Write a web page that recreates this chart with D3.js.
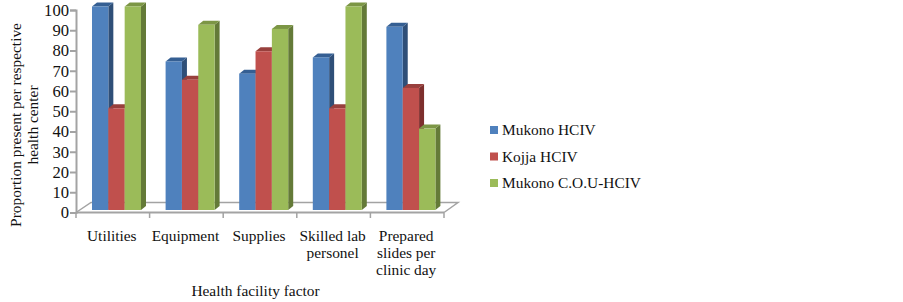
<!DOCTYPE html>
<html>
<head>
<meta charset="utf-8">
<script src="https://cdn.jsdelivr.net/npm/d3@7"></script>
<style>
html, body { margin: 0; padding: 0; background: #fff; }
text { font-family: "Liberation Serif", serif; fill: #111; }
</style>
</head>
<body>
<div id="chart"></div>
<script>
var categories = [["Utilities"], ["Equipment"], ["Supplies"], ["Skilled lab", "personel"], ["Prepared", "slides per", "clinic day"]];
var seriesNames = ["Mukono HCIV", "Kojja HCIV", "Mukono C.O.U-HCIV"];
var mukono = [100, 73, 67, 75, 90];
var kojja = [50, 64, 78, 50, 60];
var mukonoCou = [100, 91, 89, 100, 40];
var yTicks = [0, 10, 20, 30, 40, 50, 60, 70, 80, 90, 100];

var seriesValues = [mukono, kojja, mukonoCou];
var frontColors = ["#4f81bd", "#c0504d", "#9bbb59"];
var sideColors = ["#2f4f78", "#7d2f2d", "#647a38"];
var capColors = ["#355f93", "#98403d", "#7c9645"];
var axisColor = "#a3a3a3";
var labelSize = 15.4;

var width = 903, height = 302;
var depthX = 5, depthY = 4;

var svg = d3.select("#chart").append("svg")
    .attr("width", width)
    .attr("height", height)
    .style("display", "block");

// axis scale sits on the front edge, bars stand a bit further back on the floor
var y = d3.scaleLinear().domain([0, 100]).range([212.5, 10]);
var yBar = d3.scaleLinear().domain([0, 100]).range([210, 6.5]);
var x0 = d3.scaleBand().domain(d3.range(categories.length)).range([76, 444]);
var x1 = d3.scaleBand().domain(d3.range(seriesNames.length)).range([16, 65]);

// floor
svg.append("path")
    .attr("d", "M76,212.5L91,202.5L458,202.5L444,212.5")
    .attr("fill", "none")
    .attr("stroke", axisColor)
    .attr("stroke-width", 1.5);

// y axis
var yAxis = svg.append("g")
    .attr("transform", "translate(76,0)")
    .call(d3.axisLeft(y).tickValues(yTicks).tickSize(6).tickPadding(1));
yAxis.selectAll("path, line").attr("stroke", axisColor).attr("stroke-width", 2);
yAxis.selectAll("text").style("font-family", '"Liberation Serif", serif').style("font-size", "16.6px").attr("fill", "#111");

// x axis, ticks go on the band edges
var edges = categories.map(function(c, i) { return x0(i); }).concat([x0.range()[1]]);
svg.append("line")
    .attr("x1", 76).attr("x2", 444)
    .attr("y1", 212.5).attr("y2", 212.5)
    .attr("stroke", axisColor)
    .attr("stroke-width", 2);
svg.selectAll(".xtick")
    .data(edges)
  .enter().append("line")
    .attr("class", "xtick")
    .attr("x1", function(d) { return d; })
    .attr("x2", function(d) { return d; })
    .attr("y1", 212.5)
    .attr("y2", 218)
    .attr("stroke", axisColor)
    .attr("stroke-width", 1.5);

svg.selectAll(".xlabel")
    .data(categories)
  .enter().append("text")
    .attr("class", "xlabel")
    .attr("text-anchor", "middle")
    .attr("font-size", labelSize)
    .each(function(lines, i) {
      d3.select(this).selectAll("tspan")
          .data(lines)
        .enter().append("tspan")
          .attr("x", x0(i) + x0.bandwidth() / 2 - 1)
          .attr("y", function(d, j) { return 240.5 + j * 17; })
          .text(function(d) { return d; });
    });

// bars, left to right so each front covers the side face of the one before
categories.forEach(function(c, i) {
  seriesNames.forEach(function(s, k) {
    var left = x0(i) + x1(k);
    var right = left + x1.bandwidth();
    var top = yBar(seriesValues[k][i]);
    var bottom = yBar(0);
    svg.append("path")
        .attr("d", "M" + right + "," + top + "L" + (right + depthX) + "," + (top - depthY) +
                   "L" + (right + depthX) + "," + (bottom - depthY) + "L" + right + "," + bottom + "Z")
        .attr("fill", sideColors[k]);
    svg.append("path")
        .attr("d", "M" + left + "," + top + "L" + (left + depthX) + "," + (top - depthY) +
                   "L" + (right + depthX) + "," + (top - depthY) + "L" + right + "," + top + "Z")
        .attr("fill", capColors[k]);
    svg.append("rect")
        .attr("x", left)
        .attr("y", top)
        .attr("width", x1.bandwidth())
        .attr("height", bottom - top)
        .attr("fill", frontColors[k]);
  });
});

// axis titles
svg.append("text")
    .attr("transform", "translate(21,125) rotate(-90)")
    .attr("text-anchor", "middle")
    .attr("font-size", labelSize)
    .text("Proportion present per respective");
svg.append("text")
    .attr("transform", "translate(38,125) rotate(-90)")
    .attr("text-anchor", "middle")
    .attr("font-size", labelSize)
    .text("health center");
svg.append("text")
    .attr("x", 255.5)
    .attr("y", 296)
    .attr("text-anchor", "middle")
    .attr("font-size", labelSize)
    .text("Health facility factor");

// legend
var legendY = d3.scalePoint().domain(seriesNames).range([130, 183]);
svg.selectAll(".swatch")
    .data(seriesNames)
  .enter().append("rect")
    .attr("class", "swatch")
    .attr("x", 490)
    .attr("y", function(d) { return legendY(d) - 4; })
    .attr("width", 8)
    .attr("height", 8)
    .attr("fill", function(d, i) { return frontColors[i]; });
svg.selectAll(".legendlabel")
    .data(seriesNames)
  .enter().append("text")
    .attr("class", "legendlabel")
    .attr("x", 502)
    .attr("y", function(d) { return legendY(d) + 5; })
    .attr("font-size", labelSize)
    .text(function(d) { return d; });
</script>
</body>
</html>
